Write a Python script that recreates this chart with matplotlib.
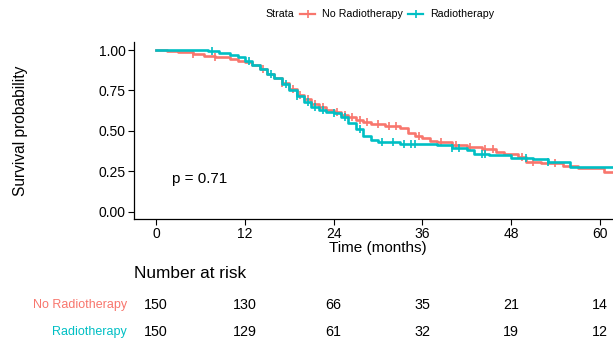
import numpy as np
import matplotlib.pyplot as plt
from matplotlib.lines import Line2D
from matplotlib.transforms import blended_transform_factory

plt.rcParams['font.family'] = ['Liberation Sans', 'DejaVu Sans']

# Kaplan-Meier step data
no_rt_time = [0, 1.5, 3, 5, 6.5, 8, 10, 11, 12, 13, 14, 15, 16, 17, 18, 19, 20, 21, 22, 23,
              24, 25, 26, 27, 28, 29, 31, 33, 34, 35, 36, 37, 38, 40, 42, 44, 46, 47, 49,
              50, 52, 55, 57, 60.5, 64]
no_rt_surv = [1.0, 0.993, 0.987, 0.975, 0.965, 0.955, 0.945, 0.935, 0.925, 0.905, 0.88, 0.855,
              0.83, 0.795, 0.76, 0.725, 0.695, 0.665, 0.645, 0.63, 0.615, 0.6, 0.585, 0.57,
              0.555, 0.54, 0.53, 0.515, 0.49, 0.47, 0.455, 0.44, 0.43, 0.415, 0.40, 0.385,
              0.37, 0.355, 0.34, 0.31, 0.30, 0.28, 0.27, 0.245, 0.245]
no_rt_cens = [5, 8, 14.5, 17, 18.5, 19.5, 20.5, 21.5, 22.5, 24.5, 25.5, 26.5, 27.5, 28.5,
              30, 31.5, 32.5, 35.5, 38.5, 40.5, 42.5, 44.5, 45.5, 49.5, 51, 54]

rt_time = [0, 7, 8.5, 10, 11, 12, 13, 14, 15, 16, 17, 18, 19, 20, 21, 22, 23, 24, 25, 26,
           27, 28, 29, 30, 33, 38, 40, 42, 43, 45, 48, 51, 53, 56, 64]
rt_surv = [1.0, 0.995, 0.985, 0.97, 0.955, 0.935, 0.91, 0.885, 0.855, 0.825, 0.79, 0.755,
           0.715, 0.68, 0.65, 0.63, 0.62, 0.61, 0.585, 0.55, 0.51, 0.47, 0.445, 0.43, 0.42,
           0.41, 0.395, 0.38, 0.36, 0.35, 0.335, 0.325, 0.31, 0.275, 0.275]
rt_cens = [7.5, 12.5, 15.5, 17.5, 19, 20.5, 21.5, 22.5, 24, 25.5, 27.5, 30.5, 32, 33.5,
           34.5, 35, 40, 41, 44, 44.5, 50, 53]

risk_times = [0, 12, 24, 36, 48, 60]
risk_no_rt = [150, 130, 66, 35, 21, 14]
risk_rt = [150, 129, 61, 32, 19, 12]

red = '#F8766D'
teal = '#00BFC4'


def surv_at(times, surv, t):
    idx = np.searchsorted(times, t, side='right') - 1
    return np.array(surv)[idx]


fig = plt.figure(figsize=(6.13, 3.45), dpi=100)
# panel runs a bit past the right edge, as in the original crop
ax = fig.add_axes([134 / 613, 1 - 219 / 345, (622 - 134) / 613, (219 - 42) / 345])

for t, s, c, col in [(no_rt_time, no_rt_surv, no_rt_cens, red),
                     (rt_time, rt_surv, rt_cens, teal)]:
    ax.step(t, s, where='post', color=col, lw=1.9)
    ax.plot(c, surv_at(t, s, c), ls='none', marker='|', ms=6, mew=1.2, color=col)

ax.set_xlim(-3.0, 63.0)
ax.set_ylim(-0.045, 1.05)
ax.set_xticks(risk_times)
ax.set_yticks([0, 0.25, 0.5, 0.75, 1.0])
ax.set_yticklabels(['0.00', '0.25', '0.50', '0.75', '1.00'])
ax.tick_params(labelsize=10, length=4, width=0.8, colors='black', pad=2)
for sp in ['top', 'right']:
    ax.spines[sp].set_visible(False)
for sp in ['left', 'bottom']:
    ax.spines[sp].set_linewidth(0.9)
ax.set_xlabel('Time (months)', fontsize=11, labelpad=0)
ax.set_ylabel('Survival probability', fontsize=11.2)
ax.yaxis.set_label_coords((28 - 134) / 488, 0.5)
ax.text(2.2, 0.2, 'p = 0.71', fontsize=11, va='center', ha='left')

# legend on top
yc = 1 - 14 / 345
fig.text(265 / 613, yc, 'Strata', fontsize=7.7, va='center', ha='left')
for x0, txt, col in [(300, 'No Radiotherapy', red), (408, 'Radiotherapy', teal)]:
    fig.add_artist(Line2D([x0 / 613, (x0 + 15) / 613], [yc, yc], color=col, lw=1.6))
    fig.add_artist(Line2D([(x0 + 7.5) / 613], [yc], marker='|', ms=6, mew=1.2, color=col))
    fig.text((x0 + 22) / 613, yc, txt, fontsize=7.7, va='center', ha='left')

# number at risk table
tr = blended_transform_factory(ax.transData, fig.transFigure)
fig.text(134 / 613, 1 - 274 / 345, 'Number at risk', fontsize=12.4, va='center', ha='left')
for yp, label, vals, col in [(305, 'No Radiotherapy', risk_no_rt, red),
                             (332, 'Radiotherapy', risk_rt, teal)]:
    yf = 1 - yp / 345
    fig.text(127 / 613, yf, label, fontsize=9, color=col, va='center', ha='right')
    for t, v in zip(risk_times, vals):
        ax.text(t, yf, str(v), transform=tr, fontsize=10.3, va='center', ha='center',
                clip_on=False)

fig.savefig('out.png', dpi=100)
